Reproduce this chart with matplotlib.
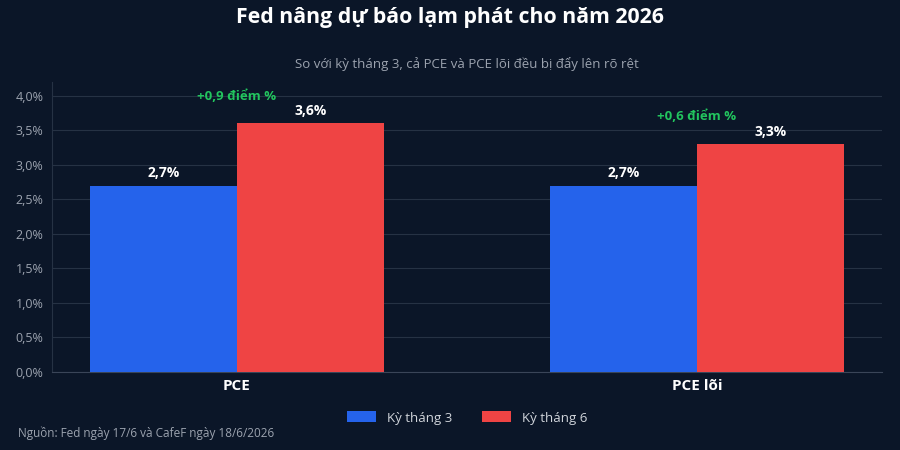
import numpy as np
import matplotlib.pyplot as plt

# Data
categories = ['PCE', 'PCE lõi']
series_names = ['Kỳ tháng 3', 'Kỳ tháng 6']
thang3 = [2.7, 2.7]
thang6 = [3.6, 3.3]
changes = ['+0,9 điểm %', '+0,6 điểm %']
yticks = [0, 0.5, 1.0, 1.5, 2.0, 2.5, 3.0, 3.5, 4.0]

bg = '#0b1628'
blue = '#2563eb'
red = '#ef4444'
green = '#22c55e'
grid_c = '#263244'
tick_c = '#9ca3af'

plt.rcParams['font.family'] = ['Open Sans', 'DejaVu Sans']

fig = plt.figure(figsize=(9, 4.5), dpi=100, facecolor=bg)
ax = fig.add_axes([52 / 900, 1 - 372 / 450, 830 / 900, 290 / 450], facecolor=bg)

x = np.arange(len(categories))
w = 0.32
b1 = ax.bar(x - w / 2, thang3, w, color=blue, label=series_names[0], zorder=3)
b2 = ax.bar(x + w / 2, thang6, w, color=red, label=series_names[1], zorder=3)

def fmt(v):
    return f'{v:.1f}%'.replace('.', ',')

for bars, vals in [(b1, thang3), (b2, thang6)]:
    for r, v in zip(bars, vals):
        ax.annotate(fmt(v), (r.get_x() + r.get_width() / 2, v), xytext=(0, 4),
                    textcoords='offset points', ha='center', va='bottom',
                    color='white', fontsize=10, fontweight='bold')

for i in range(len(categories)):
    ax.text(x[i], thang6[i] + 0.4, changes[i], ha='center', va='center',
            color=green, fontsize=9.5, fontweight='bold')

ax.set_xlim(-0.402, 1.402)
ax.set_ylim(0, 4.2)
ax.set_yticks(yticks)
ax.set_yticklabels([fmt(t) for t in yticks], color=tick_c, fontsize=9)
ax.set_xticks(x)
ax.set_xticklabels(categories, color='white', fontsize=11, fontweight='bold')
ax.tick_params(axis='both', length=0)
ax.tick_params(axis='y', pad=6)
ax.tick_params(axis='x', pad=5)
ax.grid(axis='y', color=grid_c, linewidth=0.8, zorder=0)
for s in ['top', 'right']:
    ax.spines[s].set_visible(False)
ax.spines['left'].set_color(grid_c)
ax.spines['bottom'].set_color('#3a4558')

fig.text(0.5, 1 - 18 / 450, 'Fed nâng dự báo lạm phát cho năm 2026', ha='center', va='center',
         color='white', fontsize=15.3, fontweight='bold')
fig.text(467 / 900, 1 - 64 / 450, 'So với kỳ tháng 3, cả PCE và PCE lõi đều bị đẩy lên rõ rệt',
         ha='center', va='center', color=tick_c, fontsize=9.5)
fig.text(18 / 900, 1 - 433 / 450, 'Nguồn: Fed ngày 17/6 và CafeF ngày 18/6/2026',
         ha='left', va='center', color=tick_c, fontsize=8.5)

leg = fig.legend(loc='center', bbox_to_anchor=(467 / 900, 1 - 418 / 450), ncol=2, frameon=False,
                 fontsize=9.5, handlelength=2.2, handleheight=0.9, columnspacing=2.3)
for t in leg.get_texts():
    t.set_color('#d1d5db')

fig.savefig('out.png', dpi=100, facecolor=bg)
